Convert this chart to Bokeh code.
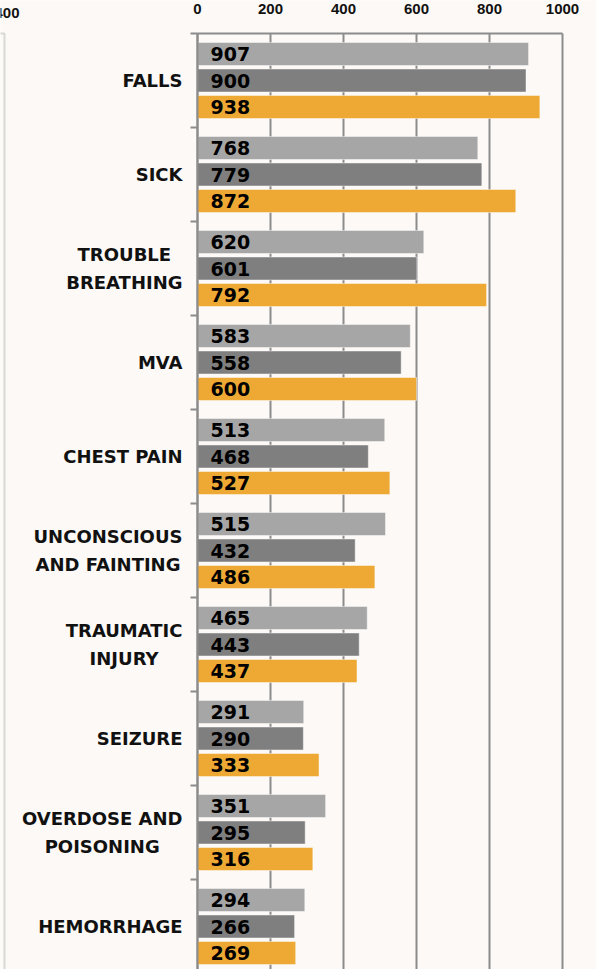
from bokeh.plotting import figure
from bokeh.models import (ColumnDataSource, Range1d, LinearAxis, FixedTicker,
                          BoxAnnotation, Label)
from bokeh.core.properties import value
from bokeh.embed import file_html
from bokeh.resources import INLINE

categories = ["FALLS", "SICK", "TROUBLE\nBREATHING", "MVA", "CHEST PAIN",
              "UNCONSCIOUS\nAND FAINTING", "TRAUMATIC\nINJURY", "SEIZURE",
              "OVERDOSE AND\nPOISONING", "HEMORRHAGE"]
series_a = [907, 768, 620, 583, 513, 515, 465, 291, 351, 294]
series_b = [900, 779, 601, 558, 468, 432, 443, 290, 295, 266]
series_c = [938, 872, 792, 600, 527, 486, 437, 333, 316, 269]
x_ticks = [0, 200, 400, 600, 800, 1000]

colors = ["#A6A6A6", "#7F7F7F", "#EDA934"]
BG = "#FCF9F6"
GRID = "#8C8C8C"

W, H = 596, 969
frame_top = 33
band_px = 94.0
px_per_unit = 0.365
x0_px = 197

x_start = -x0_px / px_per_unit
x_end = (W - x0_px) / px_per_unit
y_bottom = (H - frame_top) / band_px
y_top = -frame_top / band_px

p = figure(width=W, height=H, output_backend="svg", toolbar_location=None,
           x_range=Range1d(x_start, x_end), y_range=Range1d(y_bottom, y_top),
           x_axis_location=None, y_axis_location=None,
           min_border_left=0, min_border_right=0, min_border_bottom=0,
           min_border_top=0, background_fill_color=BG,
           border_fill_color=BG, outline_line_color=None)

n = len(categories)
centers = [i + 0.5 for i in range(n)]
pitch = 0.282
bar_h = 0.245
for k, (vals, col) in enumerate(zip([series_a, series_b, series_c], colors)):
    ys = [c + (k - 1) * pitch for c in centers]
    src = ColumnDataSource(dict(y=ys, v=vals, t=[str(v) for v in vals]))
    p.hbar(y="y", left=0, right="v", height=bar_h, source=src,
           fill_color=col, line_color="#FFFFFF", line_alpha=0.45,
           line_width=1)
    p.text(x=0, y="y", text="t", source=src, x_offset=13,
           text_align="left", text_baseline="middle",
           text_font=value("DejaVu Sans"), text_font_style="bold",
           text_font_size="19px", text_color="#000000")

# category labels
csrc = ColumnDataSource(dict(y=centers, t=categories))
p.text(x=0, y="y", text="t", source=csrc, x_offset=-15,
       anchor="center_right", text_align="center", text_baseline="middle",
       text_font=value("DejaVu Sans"), text_font_style="bold",
       text_font_size="18px", text_color="#111111", text_line_height=1.32)

# grid (vertical lines only below the top border)
p.xgrid.ticker = FixedTicker(ticks=x_ticks)
p.xgrid.grid_line_color = GRID
p.xgrid.grid_line_width = 2
p.xgrid.cross_bounds = (0, y_bottom + 1)
p.ygrid.grid_line_color = None

# top axis, fixed at the top border
top = LinearAxis(ticker=FixedTicker(ticks=x_ticks), bounds=(0, 1000),
                 fixed_location=0,
                 major_tick_line_color=None, minor_tick_line_color=None,
                 axis_line_color=GRID, axis_line_width=2,
                 major_label_standoff=14,
                 major_label_text_font="Liberation Sans",
                 major_label_text_font_style="bold",
                 major_label_text_font_size="15px",
                 major_label_text_color="#111111")
p.add_layout(top, "above")

# left axis (category boundaries) fixed at x=0
bounds_ticks = list(range(n + 1))
left = LinearAxis(ticker=FixedTicker(ticks=bounds_ticks),
                  fixed_location=0, bounds=(0, y_bottom + 1),
                  major_tick_in=0, major_tick_out=7,
                  major_tick_line_color=GRID, major_tick_line_width=2,
                  minor_tick_line_color=None,
                  axis_line_color=GRID, axis_line_width=2,
                  major_label_overrides={t: "" for t in bounds_ticks})
p.add_layout(left, "left")

# neighbouring chart edge (cropped at the left of the picture)
p.add_layout(BoxAnnotation(left=-12, right=4, left_units="screen",
                           right_units="screen", top=0, bottom=y_bottom + 1,
                           fill_color=None, line_color=GRID, line_width=2))
p.add_layout(Label(x=x_start, y=-0.22, x_offset=-6,
                   text="400", text_font="Liberation Sans",
                   text_font_style="bold", text_font_size="15px",
                   text_baseline="middle", text_color="#111111"))

out = file_html(p, INLINE)
open("out.html", "w").write(out)
